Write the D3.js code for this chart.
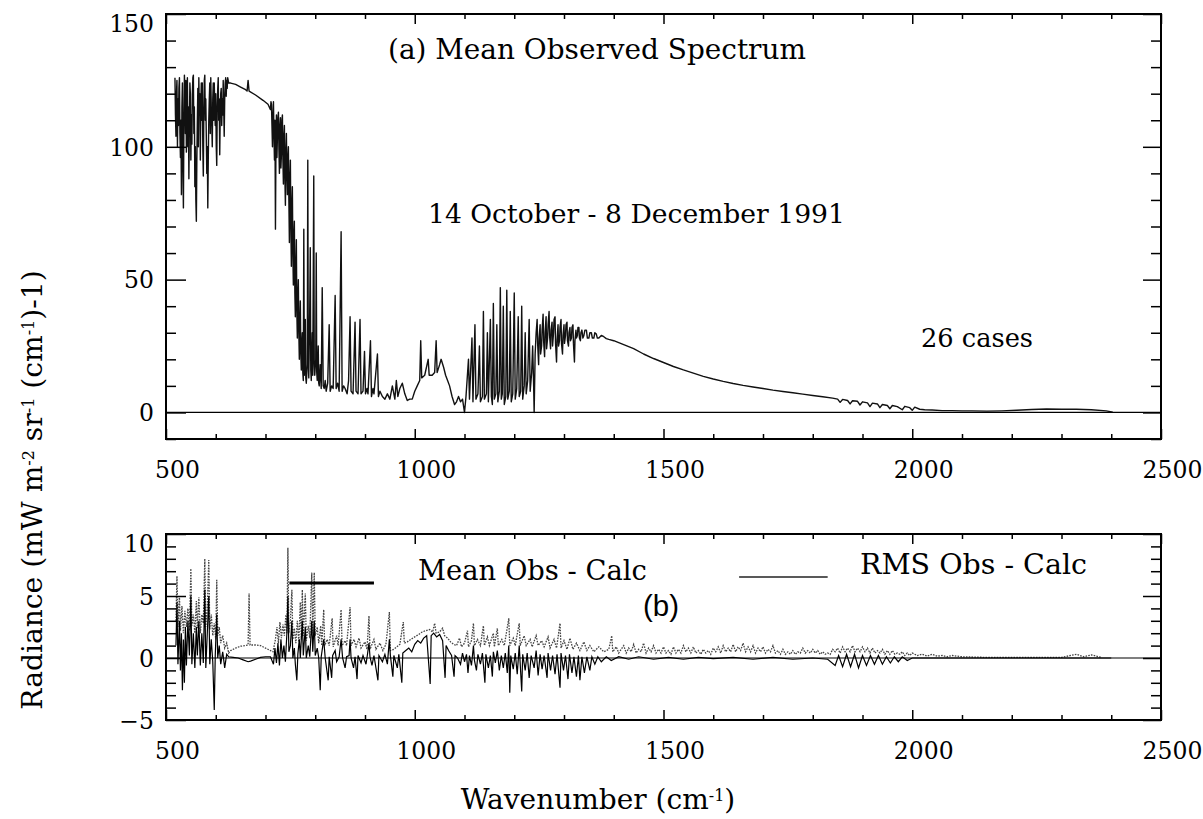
<!DOCTYPE html>
<html><head><meta charset="utf-8">
<script src="https://cdn.jsdelivr.net/npm/d3@7"></script>
<style>
body{margin:0;background:#fff;}
svg{display:block;}
.serif{font-family:"DejaVu Serif",serif;fill:#000;}
.sans{font-family:"Liberation Sans",Arial,sans-serif;fill:#000;}
.domain{display:none;}
</style></head>
<body><svg id="c" width="1203" height="819"></svg>
<script>
// ---------------- DATA ----------------
const xTicks = [500, 1000, 1500, 2000, 2500];
const topYTicks = [0, 50, 100, 150];
const bottomYTicks = [-5, 0, 5, 10];

// (a) mean observed spectrum: [wavenumber cm-1, radiance]
const observedSpectrum = [
[518,126],[519,112],[520,104],[521,120],[522,125],[523,100],[524,118],[525,108],[526,122],[527,126],
[528,105],[529,96],[530,110],[531,82],[532,115],[533,124],[534,92],[535,77],[536,110],[537,127],
[538,120],[539,105],[540,125],[541,98],[542,118],[543,126],[544,100],[545,115],[546,88],[547,108],
[548,124],[549,120],[550,95],[551,112],[552,101],[553,120],[554,126],[555,127],[556,105],[557,115],
[558,85],[559,100],[560,80],[561,72],[562,95],[563,110],[564,122],[565,100],[566,126],[567,112],
[568,120],[569,95],[570,115],[571,124],[572,110],[573,124],[574,100],[575,89],[576,112],[577,125],
[578,127],[579,110],[580,118],[581,104],[582,90],[583,100],[584,77],[585,96],[586,110],[587,118],
[588,124],[589,105],[590,126],[591,115],[592,108],[593,100],[594,118],[595,124],[596,110],[597,124],
[598,115],[599,108],[600,120],[601,100],[602,93],[603,115],[604,122],[605,126],[606,110],[607,118],
[608,97],[609,112],[610,120],[611,122],[612,108],[613,118],[614,112],[615,125],[616,115],[617,104],
[618,118],[619,124],[620,126],[621,119],[622,125],[623,122],[624,126],[626,124],
[630,124],[640,123.5],[650,122.5],[660,121.5],[663,121],[665,125],[667,121],[680,119.5],[695,117.5],[705,116],
[710,114],[711,117],[712,116],[713,108],[714,100],[715,112],[716,117],[717,104],[718,95],[719,110],
[720,69],[721,100],[722,112],[723,96],[724,104],[725,111],[726,113],[727,99],[728,90],[729,108],
[730,111],[731,92],[732,97],[733,110],[734,112],[735,95],[736,86],[737,104],[738,108],[739,88],
[740,78],[741,98],[742,105],[743,90],[744,82],[745,96],[746,100],[747,80],[748,64],[749,88],
[750,95],[751,70],[752,55],[753,78],[754,85],[755,60],[756,48],[757,66],[758,72],[759,45],
[760,36],[761,55],[762,65],[763,38],[764,28],[765,44],[766,50],[767,30],[768,20],[769,34],
[770,42],[771,22],[772,16],[773,26],[774,30],[775,15],[776,12],[777,69],[778,14],[779,20],
[780,35],[781,13],[782,11],[784,18],[785,95],[786,20],[787,13],[789,40],[790,62],[791,16],
[792,12],[794,30],[795,14],[797,89],[798,18],[799,14],[801,20],[802,60],[803,15],[804,12],
[806,25],[807,11],[808,10],[810,18],[812,9],[814,47],[816,10],[818,9],[820,12],[822,8],
[825,11],[828,33],[830,8],[833,10],[836,9],[840,44],[842,9],[845,11],[848,8],[852,68],
[854,8],[857,10],[860,9],[864,7],[867,12],[870,36],[872,8],[876,7],[880,34],[882,8],
[886,7],[890,35],[892,7],[896,8],[899,23],[901,7],[904,9],[906,7],[911,27],[913,6],
[916,9],[918,7],[925,22],[927,6],[930,8],[935,6],[940,5],[945,7],[950,5],[955,10],
[960,5],[963,12],[966,6],[970,9],[975,11],[980,7],[985,4.5],[990,5],[995,5],[1000,8],
[1005,10],[1010,12],[1012,27],[1014,13],[1020,14],[1027,20],[1029,14],[1035,14],[1040,15],[1043,27],
[1045,15],[1050,18],[1053,20],[1058,17],[1062,14],[1066,12],[1070,10],[1075,6],[1080,3],[1084,4],
[1088,6],[1092,4],[1096,5],[1100,0],[1103,6],[1108,20],[1110,5],[1115,28],[1117,4],[1121,33],
[1123,5],[1127,7],[1130,25],[1132,4],[1136,6],[1138,38],[1140,5],[1144,7],[1146,30],[1148,4],
[1152,35],[1154,6],[1156,3],[1158,41],[1160,5],[1163,7],[1165,33],[1167,4],[1170,8],[1172,47],
[1174,5],[1176,7],[1178,40],[1180,3],[1183,6],[1185,46],[1187,5],[1190,8],[1192,38],[1194,4],
[1197,7],[1200,45],[1202,5],[1205,9],[1208,36],[1210,6],[1213,8],[1215,40],[1217,5],[1220,10],
[1222,30],[1224,7],[1227,12],[1230,35],[1232,8],[1235,15],[1237,25],[1239,10],[1240,0],[1242,22],
[1244,30],[1246,35],[1247,26],[1249,18],[1250,28],[1252,33],[1253,22],[1255,25],[1256,31],[1258,37],
[1259,27],[1261,21],[1262,30],[1264,36],[1265,24],[1267,28],[1268,33],[1270,38],[1271,29],[1273,24],
[1274,31],[1276,34],[1277,25],[1279,30],[1280,35],[1282,36],[1283,26],[1285,19],[1286,27],[1288,33],
[1289,25],[1291,27],[1292,32],[1294,35],[1295,26],[1297,22],[1298,29],[1300,33],[1301,26],[1303,29],
[1304,33],[1306,34],[1307,27],[1309,25],[1310,30],[1312,32],[1313,27],[1315,28],[1316,32],[1318,33],
[1319,26],[1321,19],[1322,27],[1324,31],[1325,28],[1327,29],[1328,32],[1330,32],[1331,28],[1333,27],
[1334,30],[1336,31],[1338,28],[1340,29],[1342,31],[1345,31],[1347,28],[1350,28],[1352,30],[1355,30],
[1357,28],[1360,28],[1362,30],[1365,29.5],[1367,28],[1370,28],[1375,29],[1380,28.5],[1385,27.8],[1390,27.5],
[1400,27],[1420,25.5],[1440,24],[1460,22],[1480,20.3],[1500,18.8],[1520,17.3],[1540,16],[1560,14.8],[1580,13.6],
[1600,12.6],[1620,11.7],[1640,10.9],[1660,10.2],[1680,9.6],[1700,9],[1720,8.4],[1740,7.9],[1760,7.4],[1780,6.9],
[1800,6.4],[1820,5.9],[1840,5.4],[1850,5],[1855,3.8],[1860,4.9],[1870,4.5],[1875,3.2],[1880,4.4],[1890,4.2],
[1895,2.8],[1900,4],[1910,3.6],[1915,2.2],[1920,3.5],[1930,3.2],[1935,1.8],[1940,3],[1950,2.6],[1955,1.4],
[1960,2.6],[1970,2.2],[1980,1],[1985,2.3],[1995,1.8],[2000,0.8],[2005,2],[2015,1.2],[2025,1],[2040,0.9],
[2060,0.7],[2080,0.7],[2100,0.6],[2120,0.6],[2150,0.5],[2180,0.6],[2210,0.8],[2240,1.1],[2270,1.3],[2300,1.2],
[2330,1.2],[2360,1],[2390,0.6],[2403,0.1]
];

// (b) RMS obs - calc: [wavenumber, radiance]
const rmsObsCalc = [
[520,3],[522,6.6],[524,2.5],[527,5],[529,2.2],[532,4.2],[535,2],[538,3.8],[541,2.5],[544,4],
[547,2.2],[550,7.2],[552,2.6],[555,3.5],[558,2],[561,4.6],[563,2.4],[566,4.9],[569,2],[572,3.5],
[575,2.8],[578,8],[580,2.5],[583,4],[586,7.9],[588,2.3],[591,3.5],[594,1.8],[597,2.8],[600,1.5],
[602,6.3],[604,1.8],[607,2.5],[610,1.2],[614,1.8],[618,0.8],[622,1.2],[626,0.4],[630,0.6],[640,0.8],
[650,0.95],[660,1],[665,1.05],[667,5.2],[669,1.05],[680,1.05],[690,1],[700,0.8],[710,0.6],[715,0.5],
[720,1.5],[723,2.5],[726,1.2],[729,2.9],[732,1.6],[735,2.7],[738,1.8],[741,3.5],[743,2],[745,8.9],
[747,2],[750,3],[753,5.5],[755,1.5],[758,2.4],[761,1.2],[764,3],[767,1.3],[770,4.5],[772,1.5],
[774,5.5],[776,1.8],[780,5.2],[782,1.4],[786,2.6],[789,1.6],[793,6.9],[795,2],[798,6.9],[800,1.8],
[804,2.5],[807,1.2],[811,2.6],[813,1],[817,3.9],[819,1],[824,1.5],[828,1],[834,3.2],[836,0.9],
[843,1.8],[846,1],[852,3.9],[854,1],[860,1.4],[863,1],[870,4.1],[872,1],[878,1.5],[882,0.9],
[888,1.6],[892,0.8],[900,1.3],[904,0.7],[908,3.4],[910,0.7],[918,1.5],[922,0.7],[930,1.2],[936,0.6],
[942,1.1],[949,3.7],[951,0.6],[958,0.7],[964,0.9],[970,1.1],[977,2.9],[979,1.2],[985,1.3],[992,1.5],
[1000,1.7],[1008,1.9],[1015,2.1],[1022,2.2],[1030,2.3],[1036,2.1],[1040,2.8],[1043,2],[1050,2.1],[1056,2.4],
[1060,1.8],[1066,1.6],[1072,1.3],[1078,1.1],[1084,1],[1090,1.6],[1094,0.9],[1100,1.2],[1106,2.2],[1108,0.9],
[1114,1.4],[1118,2.8],[1120,1],[1126,1.5],[1132,1],[1138,2.6],[1140,1],[1146,1.7],[1150,1],[1158,2],
[1160,0.9],[1166,2.4],[1168,1],[1175,1.5],[1180,1],[1189,3.2],[1191,1],[1198,1.6],[1202,1],[1210,2.8],
[1212,1],[1220,1.8],[1224,1],[1232,1.5],[1236,0.9],[1244,1.8],[1248,1],[1255,1.4],[1260,0.9],[1268,1.7],
[1272,0.8],[1280,1.5],[1285,0.8],[1292,2.8],[1294,0.8],[1300,1.4],[1306,0.7],[1312,1.6],[1318,0.7],[1325,1.2],
[1332,0.6],[1340,1.3],[1346,0.6],[1352,1],[1360,0.5],[1370,0.9],[1380,0.5],[1390,0.7],[1396,1.8],[1398,0.5],
[1405,0.9],[1410,0.4],[1415,0.7],[1420,1],[1425,0.4],[1430,0.8],[1435,0.5],[1440,1.1],[1445,0.4],[1450,0.7],
[1455,0.5],[1460,1.2],[1465,0.4],[1470,0.8],[1475,0.5],[1480,1],[1485,0.4],[1490,0.7],[1495,0.4],[1500,0.9],
[1505,0.4],[1510,0.6],[1515,0.3],[1520,0.9],[1525,0.4],[1530,0.7],[1535,0.4],[1540,1],[1545,0.5],[1550,0.8],
[1555,0.4],[1560,0.9],[1565,0.4],[1570,0.6],[1575,0.3],[1580,0.7],[1585,0.4],[1590,0.6],[1595,0.3],[1600,0.8],
[1605,0.5],[1610,0.9],[1615,0.4],[1620,1],[1625,0.5],[1630,0.8],[1635,0.5],[1640,1.1],[1645,0.5],[1650,0.9],
[1655,0.6],[1660,1.2],[1665,0.5],[1670,0.9],[1675,0.5],[1680,1],[1685,0.4],[1690,0.8],[1695,0.5],[1700,0.9],
[1705,0.4],[1710,0.7],[1715,0.5],[1720,1],[1725,0.4],[1730,0.6],[1735,0.3],[1740,0.7],[1745,0.3],[1750,0.5],
[1755,0.3],[1760,0.6],[1765,0.3],[1770,0.5],[1775,0.4],[1780,0.8],[1785,0.4],[1790,0.6],[1795,0.4],[1800,0.7],
[1805,0.4],[1810,0.6],[1815,0.3],[1820,0.5],[1825,0.3],[1830,0.4],[1835,0.3],[1840,0.7],[1845,0.5],[1850,0.8],
[1855,0.4],[1860,0.9],[1865,0.5],[1870,0.8],[1875,0.5],[1880,1],[1885,0.5],[1890,0.8],[1895,0.5],[1900,0.9],
[1905,0.5],[1910,0.8],[1915,0.4],[1920,0.8],[1925,0.4],[1930,0.6],[1935,0.4],[1940,0.7],[1945,0.3],[1950,0.6],
[1955,0.3],[1960,0.6],[1965,0.3],[1970,0.4],[1975,0.3],[1980,0.5],[1985,0.2],[1990,0.4],[1995,0.2],[2000,0.4],
[2010,0.2],[2020,0.3],[2030,0.15],[2040,0.3],[2050,0.15],[2060,0.2],[2070,0.1],[2080,0.2],[2100,0.1],[2150,0.05],
[2200,0.05],[2300,0.05],[2330,0.3],[2345,0.1],[2360,0.25],[2380,0.05]
];

// (b) Mean obs - calc: [wavenumber, radiance]
const meanObsCalc = [
[520,1],[522,4.5],[524,-0.5],[527,3],[529,-1],[531,2],[533,-2.6],[535,1.5],[537,-2],[539,2.5],
[541,-0.6],[544,3],[547,0.2],[550,5],[552,-0.5],[555,2],[558,-0.8],[561,2.5],[563,0.2],[566,3],
[569,-0.6],[572,2],[575,-0.4],[578,5.5],[580,-0.8],[583,2],[586,5],[588,-0.5],[591,1.5],[594,-0.3],
[597,-4.2],[599,0.2],[602,3.5],[604,0],[607,1],[610,-0.5],[614,0.5],[618,-0.8],[622,0.3],[626,0.1],
[635,0.05],[645,0],[655,-0.15],[665,-0.3],[670,-0.25],[680,-0.1],[690,0.05],[700,0.1],[710,0.1],[716,-0.5],
[719,0.8],[722,-0.4],[725,1.2],[728,-0.6],[731,1.5],[734,0],[737,1],[740,-0.3],[743,2],[745,5],
[747,0.5],[750,1],[753,3],[755,0],[758,0.8],[760,-0.5],[763,-1.8],[765,0.3],[768,1.5],[770,0],
[774,3],[776,0.2],[780,2.5],[782,0],[786,1],[789,0.1],[793,3],[795,0.5],[798,3],[800,0.2],
[804,0.8],[807,0],[810,-2.6],[812,0.1],[817,1.5],[820,0],[826,-1.8],[828,0.1],[833,-1.6],[835,0.2],
[840,0.6],[843,-0.3],[848,0.1],[852,1.5],[855,0],[860,-0.8],[863,0.1],[868,0.2],[870,1.5],[872,0],
[877,-0.8],[880,0.1],[884,-1.7],[886,0.2],[892,-0.4],[896,0.2],[902,-0.5],[905,0.3],[908,1.2],[910,0.1],
[914,-0.6],[918,0.2],[926,-1.8],[928,0.2],[935,-0.3],[940,0.3],[945,-0.5],[949,1.5],[951,0.2],[956,-1.5],
[958,0.2],[965,-0.8],[968,0.3],[974,-2],[976,0.4],[982,0.6],[988,0.8],[994,0.5],[1000,1.1],[1006,1.4],
[1012,1.2],[1018,1.6],[1024,1.8],[1031,-2.1],[1033,1.8],[1038,2],[1044,1.7],[1050,1.9],[1056,1.4],[1061,-1.6],
[1063,1],[1068,0.6],[1074,0.2],[1079,-1.5],[1081,0.2],[1086,0],[1092,-0.5],[1096,0.4],[1100,-0.3],[1104,0.3],
[1107,-1.2],[1110,0.2],[1114,-0.6],[1118,1],[1120,-0.2],[1124,-1],[1127,0.3],[1132,-0.5],[1136,0.4],[1141,-2],
[1143,0.3],[1148,-0.8],[1152,0.2],[1156,-1.5],[1158,0.5],[1162,-0.4],[1166,0.6],[1170,-1],[1174,0.2],[1178,-0.8],
[1182,0.4],[1186,-1.2],[1189,1],[1191,-2.8],[1193,0.2],[1198,-0.9],[1202,0.4],[1206,-1.3],[1210,1],[1215,-2.7],
[1217,0.3],[1222,-1],[1226,0.4],[1230,-1.6],[1234,0.2],[1240,-0.8],[1244,0.6],[1248,-1.4],[1252,0.3],[1256,-0.9],
[1260,0.2],[1266,-1.6],[1268,0.4],[1273,-1],[1277,0.2],[1282,-1.3],[1286,0.3],[1292,-2.4],[1294,0.4],[1299,-1],
[1303,0.2],[1308,-1.7],[1311,0.3],[1316,-1.2],[1320,0.1],[1325,-1.5],[1329,0.2],[1332,-1.8],[1336,0.1],[1341,-1.2],
[1346,0.1],[1352,-1],[1356,0.1],[1362,-0.5],[1368,0.1],[1375,-0.3],[1385,0.1],[1395,-0.2],[1410,0.1],[1430,-0.1],
[1450,0.1],[1480,-0.1],[1510,0.05],[1540,-0.1],[1570,0.05],[1600,-0.05],[1640,0.05],[1680,-0.1],[1720,0.05],[1760,-0.1],
[1800,0],[1830,-0.1],[1845,-0.6],[1852,0.2],[1860,-0.7],[1868,0.3],[1876,-0.7],[1884,0.3],[1892,-0.8],[1900,0.2],
[1908,-0.6],[1916,0.2],[1924,-0.5],[1932,0.2],[1940,-0.5],[1948,0.1],[1956,-0.4],[1964,0.1],[1972,-0.3],[1980,0.1],
[1990,-0.2],[2000,0],[2050,0],[2100,0],[2400,0]
];

// ---------------- CHART ----------------
const svg = d3.select("#c");
svg.append("rect").attr("width",1203).attr("height",819).attr("fill","#fff");

const X0 = 166, X1 = 1161;
const x = d3.scaleLinear().domain([500, 2500]).range([X0, X1]);
const yTop = d3.scaleLinear().domain([-10, 150]).range([439, 14]);
const yBot = d3.scaleLinear().domain([-5, 10]).range([720, 534]);

function fit(sel, w) {
  const n = sel.node(); const fs = parseFloat(sel.attr("font-size"));
  const cur = n.getComputedTextLength();
  if (cur > 0) sel.attr("font-size", (fs * w / cur).toFixed(2));
  return sel;
}

function drawPanel(y, yMinor, yMajor, topLabelShift) {
  const g = svg.append("g");
  const [yb, yt] = y.range();
  g.append("line").attr("x1", X0).attr("x2", X1).attr("y1", y(0)).attr("y2", y(0))
    .attr("stroke", "#000").attr("stroke-width", 1.2);
  const xMinor = d3.range(500, 2501, 100).filter(v => !xTicks.includes(v));
  const mk = (axis, ty) => g.append("g").attr("transform", `translate(0,${ty})`).call(axis)
      .call(s => s.selectAll(".tick line").attr("stroke", "#000").attr("stroke-width", 1.5));
  mk(d3.axisBottom(x).tickValues(xMinor).tickSizeInner(-5).tickSizeOuter(0).tickFormat(""), yb);
  mk(d3.axisBottom(x).tickValues(xTicks).tickSizeInner(-10).tickSizeOuter(0).tickFormat(""), yb);
  mk(d3.axisTop(x).tickValues(xMinor).tickSizeInner(-5).tickSizeOuter(0).tickFormat(""), yt);
  mk(d3.axisTop(x).tickValues(xTicks).tickSizeInner(-10).tickSizeOuter(0).tickFormat(""), yt);
  const mky = (axis, tx) => g.append("g").attr("transform", `translate(${tx},0)`).call(axis)
      .call(s => s.selectAll(".tick line").attr("stroke", "#000").attr("stroke-width", 1.5));
  mky(d3.axisLeft(y).tickValues(yMinor).tickSizeInner(-10).tickSizeOuter(0).tickFormat(""), X0);
  mky(d3.axisLeft(y).tickValues(yMajor).tickSizeInner(-20).tickSizeOuter(0).tickFormat(""), X0);
  mky(d3.axisRight(y).tickValues(yMinor).tickSizeInner(-10).tickSizeOuter(0).tickFormat(""), X1);
  mky(d3.axisRight(y).tickValues(yMajor).tickSizeInner(-18).tickSizeOuter(0).tickFormat(""), X1);
  const xl = g.append("g").attr("transform", `translate(11,${yb})`)
    .call(d3.axisBottom(x).tickValues(xTicks).tickSize(0).tickPadding(22).tickFormat(d3.format("d")));
  xl.selectAll("text").attr("class", "serif").attr("font-size", 23.5).attr("font-family", null).attr("fill", "#000");
  const yl = g.append("g").attr("transform", `translate(${X0 - 12},0)`)
    .call(d3.axisLeft(y).tickValues(yMajor).tickSize(0).tickPadding(0).tickFormat(d3.format("d")));
  yl.selectAll("text").attr("class", "serif").attr("font-size", 23.5).attr("font-family", null).attr("fill", "#000")
    .attr("dy", d => d === yMajor[yMajor.length - 1] ? topLabelShift : "0.35em");
  g.append("rect").attr("x", X0).attr("y", yt).attr("width", X1 - X0).attr("height", yb - yt)
    .attr("fill", "none").attr("stroke", "#000").attr("stroke-width", 2);
  return g;
}

// ---- panel (a)
const lineTop = d3.line().x(d => x(d[0])).y(d => yTop(d[1]));
svg.append("path").datum(observedSpectrum).attr("d", lineTop)
  .attr("fill", "none").attr("stroke", "#111").attr("stroke-width", 1.4).attr("stroke-linejoin", "round");
drawPanel(yTop, d3.range(-10, 151, 10).filter(v => v % 50 !== 0), topYTicks, "0.75em");

// ---- panel (b)
const lineBot = d3.line().x(d => x(d[0])).y(d => yBot(d[1]));
svg.append("path").datum(rmsObsCalc).attr("d", lineBot)
  .attr("fill", "none").attr("stroke", "#444").attr("stroke-width", 1.3).attr("stroke-dasharray", "1.6,1.2");
svg.append("path").datum(meanObsCalc).attr("d", lineBot)
  .attr("fill", "none").attr("stroke", "#000").attr("stroke-width", 1.2);
drawPanel(yBot, d3.range(-5, 11, 1).filter(v => v % 5 !== 0), bottomYTicks, "0.75em");

// legends panel (b)
svg.append("line").attr("x1", x(748)).attr("x2", x(918)).attr("y1", 583).attr("y2", 583)
  .attr("stroke", "#000").attr("stroke-width", 3);
svg.append("line").attr("x1", x(1652)).attr("x2", x(1830)).attr("y1", 577).attr("y2", 577)
  .attr("stroke", "#222").attr("stroke-width", 1.6);

// texts
fit(svg.append("text").attr("class", "serif").attr("x", 388).attr("y", 59).attr("font-size", 24)
  .text("(a) Mean Observed Spectrum"), 418);
fit(svg.append("text").attr("class", "serif").attr("x", 428).attr("y", 223).attr("font-size", 24)
  .text("14 October - 8 December 1991"), 417);
fit(svg.append("text").attr("class", "serif").attr("x", 921).attr("y", 347).attr("font-size", 24)
  .text("26 cases"), 112);
fit(svg.append("text").attr("class", "serif").attr("x", 418).attr("y", 580).attr("font-size", 24)
  .text("Mean Obs - Calc"), 229);
fit(svg.append("text").attr("class", "serif").attr("x", 860).attr("y", 574).attr("font-size", 24)
  .text("RMS Obs - Calc"), 227);
fit(svg.append("text").attr("class", "sans").attr("x", 643).attr("y", 616).attr("font-size", 24)
  .text("(b)"), 36);

// y-axis title
const yt = svg.append("text").attr("class", "serif").attr("font-size", 23)
  .attr("transform", "translate(42,490) rotate(-90)").attr("text-anchor", "middle");
yt.append("tspan").text("Radiance (mW m");
yt.append("tspan").attr("dy", -8).attr("font-size", 16).text("-2");
yt.append("tspan").attr("dy", 8).text(" sr");
yt.append("tspan").attr("dy", -8).attr("font-size", 16).text("-1");
yt.append("tspan").attr("dy", 8).text(" (cm");
yt.append("tspan").attr("dy", -8).attr("font-size", 16).text("-1");
yt.append("tspan").attr("dy", 8).text(")-1)");
fit(yt, 450);

// x-axis title
const xt = svg.append("text").attr("class", "serif").attr("font-size", 23)
  .attr("x", 598).attr("y", 809).attr("text-anchor", "middle");
xt.append("tspan").text("Wavenumber (cm");
xt.append("tspan").attr("dy", -8).attr("font-size", 16).text("-1");
xt.append("tspan").attr("dy", 8).text(")");
fit(xt, 278);
</script></body></html>
